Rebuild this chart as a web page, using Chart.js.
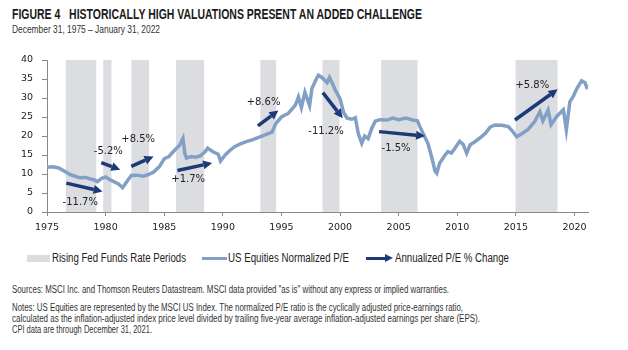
<!DOCTYPE html>
<html>
<head>
<meta charset="utf-8">
<script src="https://cdn.jsdelivr.net/npm/chart.js@4.4.0/dist/chart.umd.min.js"></script>
<style>
  body { margin: 0; background: #fff; width: 628px; height: 350px; overflow: hidden; position: relative;
         font-family: "Liberation Sans", Arial, sans-serif; color: #222; }
  .abs { position: absolute; white-space: nowrap; transform-origin: 0 0; }
  #title { left: 12px; top: 6px; font-size: 14px; font-weight: bold; color: #1a1a1a; }
  #sub { left: 12px; top: 23px; font-size: 11px; color: #333; }
  #wrap { position: absolute; left: 0; top: 40px; width: 628px; height: 200px; }
  .leg { top: 251px; font-size: 12px; color: #222; }
  .foot { left: 12px; font-size: 10px; color: #333; }
</style>
</head>
<body>
<div id="title" class="abs" data-w="410">FIGURE 4&nbsp;&nbsp;&nbsp;HISTORICALLY HIGH VALUATIONS PRESENT AN ADDED CHALLENGE</div>
<div id="sub" class="abs" data-w="148">December 31, 1975 – January 31, 2022</div>
<div id="wrap"><canvas id="myChart" width="628" height="200"></canvas></div>

<div class="abs" style="left:27px;top:255px;width:23px;height:7px;background:#dcdde0;"></div>
<div class="abs leg" style="left:52px;" data-w="134">Rising Fed Funds Rate Periods</div>
<div class="abs" style="left:202px;top:257px;width:25px;height:3px;background:#82a0c6;"></div>
<div class="abs leg" style="left:228px;" data-w="121">US Equities Normalized P/E</div>
<div class="abs" style="left:366px;top:257px;width:20px;height:3px;background:#1c3a78;"></div>
<div class="abs" style="left:385px;top:254px;width:0;height:0;border-top:4.5px solid transparent;border-bottom:4.5px solid transparent;border-left:8px solid #1c3a78;"></div>
<div class="abs leg" style="left:395px;" data-w="114">Annualized P/E % Change</div>

<div class="abs foot" style="top:284px;" data-w="437">Sources: MSCI Inc. and Thomson Reuters Datastream. MSCI data provided "as is" without any express or implied warranties.</div>
<div class="abs foot" style="top:302px;" data-w="451">Notes: US Equities are represented by the MSCI US Index. The normalized P/E ratio is the cyclically adjusted price-earnings ratio,</div>
<div class="abs foot" style="top:313px;" data-w="468">calculated as the inflation-adjusted index price level divided by trailing five-year average inflation-adjusted earnings per share (EPS).</div>
<div class="abs foot" style="top:324px;" data-w="140">CPI data are through December 31, 2021.</div>

<script>
// Dados
const years = [1975.0, 1975.5, 1976.0, 1976.5, 1977.0, 1977.4, 1977.8, 1978.3, 1978.7, 1979.0,
  1979.3, 1979.7, 1980.0, 1980.3, 1980.7, 1981.1, 1981.45, 1981.7, 1982.0, 1982.2,
  1982.7, 1983.2, 1983.6, 1984.1, 1984.6, 1985.0, 1985.4, 1985.9, 1986.3, 1986.6,
  1986.75, 1986.9, 1987.3, 1987.7, 1988.1, 1988.5, 1988.7, 1989.2, 1989.6, 1989.8,
  1990.2, 1990.6, 1991.0, 1991.5, 1992.0, 1992.5, 1993.0, 1993.6, 1994.2, 1994.5,
  1995.0, 1995.6, 1996.2, 1996.45, 1996.7, 1997.0, 1997.4, 1997.6, 1998.0, 1998.15,
  1998.45, 1998.9, 1999.1, 1999.35, 1999.6, 2000.0, 2000.3, 2000.6, 2001.0, 2001.3,
  2001.55, 2001.85, 2002.1, 2002.4, 2002.7, 2003.0, 2003.4, 2004.0, 2004.5, 2005.0,
  2005.6, 2006.2, 2006.6, 2006.8, 2007.25, 2007.5, 2007.8, 2008.1, 2008.25, 2008.5,
  2008.96, 2009.2, 2009.5, 2009.8, 2010.2, 2010.5, 2010.8, 2011.1, 2011.5, 2011.9,
  2012.4, 2012.8, 2013.2, 2013.8, 2014.35, 2014.7, 2015.07, 2015.5, 2016.06, 2016.6,
  2017.05, 2017.3, 2017.75, 2018.0, 2018.5, 2019.05, 2019.3, 2019.6, 2019.9, 2020.2,
  2020.6, 2020.9, 2021.1];
const peValues = [11.8, 11.9, 11.6, 10.7, 9.8, 9.4, 9.0, 9.1, 8.7, 8.5,
  8.0, 8.9, 9.2, 8.6, 8.0, 7.4, 6.4, 7.5, 8.8, 9.6,
  9.7, 9.4, 9.8, 10.5, 12.0, 14.0, 14.6, 16.3, 17.5, 19.4,
  15.5, 14.2, 14.6, 14.4, 14.8, 15.9, 16.8, 15.8, 15.2, 13.4,
  15.0, 16.2, 17.2, 17.9, 18.5, 19.0, 19.6, 20.3, 21.0, 23.2,
  25.0, 26.0, 28.2, 30.3, 27.5, 31.5, 28.0, 32.5, 35.2, 36.0,
  35.4, 34.0, 35.4, 33.8, 32.0, 29.8, 26.2, 24.7, 24.4, 24.8,
  20.7, 18.1, 20.0, 19.3, 22.0, 23.9, 24.3, 24.2, 24.7, 24.3,
  24.7, 24.2, 24.0, 22.5, 19.6, 18.0, 14.6, 10.8, 10.2, 12.9,
  15.0, 15.9, 15.5, 16.8, 18.6, 17.8, 15.5, 17.7, 18.5, 19.4,
  20.7, 22.3, 22.9, 22.8, 22.5, 21.3, 19.8, 20.6, 21.8, 23.8,
  26.4, 24.0, 26.8, 23.0, 25.2, 26.9, 21.6, 29.0, 30.5, 32.5,
  34.5, 34.0, 32.3];

// Períodos de alta dos juros (início, fim)
const bandStart = [1976.6, 1979.8, 1982.2, 1986.0, 1993.2, 1998.5, 2003.5, 2014.97];
const bandEnd   = [1979.2, 1980.5, 1983.7, 1988.4, 1994.55, 1999.95, 2006.6, 2018.55];

// Setas: ponto inicial e final
const arrowX0 = [1976.65, 1979.63, 1982.19, 1986.13, 1992.99, 1998.53, 2003.33, 2014.92];
const arrowY0 = [7.6, 13.0, 12.0, 10.9, 22.65, 31.4, 21.15, 24.2];
const arrowX1 = [1979.74, 1981.25, 1984.09, 1989.09, 1994.74, 2000.23, 2007.25, 2018.56];
const arrowY1 = [5.4, 11.1, 14.6, 12.9, 26.7, 24.7, 20.0, 32.3];

// Rótulos das setas
const arrowLabels = ['-11.7%', '-5.2%', '+8.5%', '+1.7%', '+8.6%', '-11.2%', '-1.5%', '+5.8%'];
const labelX = [1977.84, 1980.23, 1982.78, 1987.04, 1993.47, 1998.8, 2004.78, 2016.4];
const labelY = [2.4, 15.9, 19.2, 8.5, 28.9, 21.2, 16.8, 33.4];

const xTicks = [1975, 1980, 1985, 1990, 1995, 2000, 2005, 2010, 2015, 2020];
const yTicks = [0, 5, 10, 15, 20, 25, 30, 35, 40];

// Ajusta a largura dos textos (fonte condensada não disponível)
document.querySelectorAll('[data-w]').forEach(function (el) {
    const target = parseFloat(el.getAttribute('data-w'));
    const w = el.getBoundingClientRect().width;
    if (w > 0) el.style.transform = 'scaleX(' + (target / w) + ')';
});

// Faixas cinzas atrás da linha
const bandsPlugin = {
    id: 'bands',
    beforeDatasetsDraw(chart) {
        const { ctx, chartArea, scales } = chart;
        ctx.save();
        ctx.fillStyle = '#dcdde0';
        for (let i = 0; i < bandStart.length; i++) {
            const a = scales.x.getPixelForValue(bandStart[i]);
            const b = scales.x.getPixelForValue(bandEnd[i]);
            ctx.fillRect(a, chartArea.top, b - a, chartArea.bottom - chartArea.top);
        }
        ctx.restore();
    }
};

// Setas e rótulos por cima
const arrowsPlugin = {
    id: 'arrows',
    afterDatasetsDraw(chart) {
        const { ctx, scales } = chart;
        ctx.save();
        ctx.strokeStyle = '#1c3a78';
        ctx.fillStyle = '#1c3a78';
        ctx.lineWidth = 3.5;
        for (let i = 0; i < arrowX0.length; i++) {
            const x0 = scales.x.getPixelForValue(arrowX0[i]);
            const y0 = scales.y.getPixelForValue(arrowY0[i]);
            const x1 = scales.x.getPixelForValue(arrowX1[i]);
            const y1 = scales.y.getPixelForValue(arrowY1[i]);
            const ang = Math.atan2(y1 - y0, x1 - x0);
            const head = 9;
            const xb = x1 - head * Math.cos(ang);
            const yb = y1 - head * Math.sin(ang);
            ctx.beginPath();
            ctx.moveTo(x0, y0);
            ctx.lineTo(xb, yb);
            ctx.stroke();
            ctx.beginPath();
            ctx.moveTo(x1, y1);
            ctx.lineTo(xb + 4.5 * Math.sin(ang), yb - 4.5 * Math.cos(ang));
            ctx.lineTo(xb - 4.5 * Math.sin(ang), yb + 4.5 * Math.cos(ang));
            ctx.closePath();
            ctx.fill();
        }
        ctx.fillStyle = '#222';
        ctx.font = '10px "DejaVu Sans"';
        ctx.textAlign = 'center';
        ctx.textBaseline = 'middle';
        for (let i = 0; i < arrowLabels.length; i++) {
            ctx.fillText(arrowLabels[i],
                scales.x.getPixelForValue(labelX[i]),
                scales.y.getPixelForValue(labelY[i]));
        }
        ctx.restore();
    }
};

const ctx = document.getElementById('myChart').getContext('2d');
const myChart = new Chart(ctx, {
    type: 'line',
    data: {
        datasets: [{
            label: 'US Equities Normalized P/E',
            data: years.map((y, i) => ({ x: y, y: peValues[i] })),
            borderColor: '#82a0c6',
            borderWidth: 3.5,
            pointRadius: 0,
            tension: 0,
            fill: false
        }]
    },
    options: {
        responsive: false,
        animation: false,
        layout: { padding: { left: 0, right: 40, top: 20, bottom: 0 } },
        plugins: {
            legend: { display: false },
            tooltip: { enabled: false }
        },
        scales: {
            x: {
                type: 'linear',
                min: 1975,
                max: 2021.15,
                afterBuildTicks: s => { s.ticks = xTicks.map(v => ({ value: v })); },
                afterFit: s => { s.height = 28; },
                grid: { drawOnChartArea: false, drawTicks: true, tickLength: 4, color: '#888' },
                border: { display: true, color: '#888' },
                ticks: {
                    padding: 6,
                    maxRotation: 0,
                    color: '#222',
                    font: { family: 'DejaVu Sans', size: 9.5 },
                    callback: v => String(v)
                }
            },
            y: {
                min: 0,
                max: 40,
                afterBuildTicks: s => { s.ticks = yTicks.map(v => ({ value: v })); },
                afterFit: s => { s.width = 47; },
                grid: { drawOnChartArea: false, drawTicks: true, tickLength: 5, color: '#888' },
                border: { display: true, color: '#888' },
                ticks: {
                    padding: 9,
                    color: '#222',
                    font: { family: 'DejaVu Sans', size: 9.5 }
                }
            }
        }
    },
    plugins: [bandsPlugin, arrowsPlugin]
});
</script>
</body>
</html>
